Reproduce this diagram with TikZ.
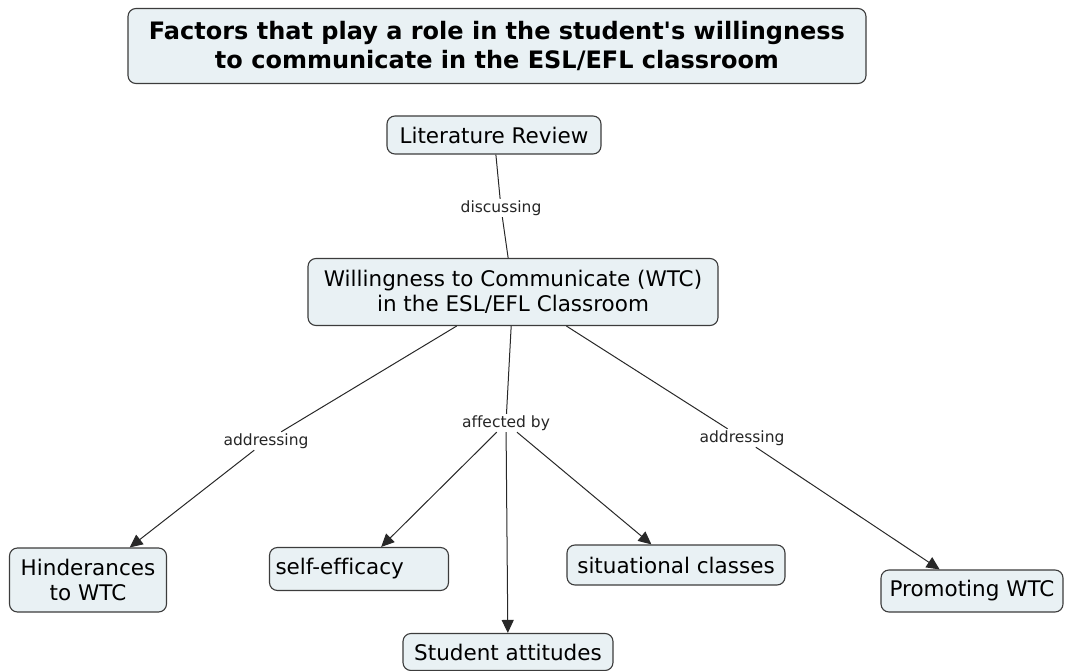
\documentclass[tikz,border=0pt]{standalone}
\usepackage{fontspec}
\setmainfont{DejaVu Sans}[Ligatures={NoCommon}]
\usetikzlibrary{arrows.meta}
\definecolor{boxfill}{RGB}{233,241,244}
\definecolor{boxline}{RGB}{60,60,60}
\definecolor{linkline}{RGB}{40,40,40}

\begin{document}
\begin{tikzpicture}[x=1pt,y=-1pt,
  concept/.style={draw=boxline,fill=boxfill,line width=1.1pt,rounded corners=8pt,
    align=center,inner xsep=6pt,inner ysep=3pt,font=\fontsize{21.5}{25}\selectfont},
  linkname/.style={fill=white,inner sep=1.5pt,text=black!85,font=\fontsize{15.5}{18}\selectfont},
  link/.style={draw=linkline,line width=1pt},
  arrowlink/.style={link,-{Triangle[length=13pt,width=12pt]}}]
  \useasboundingbox (0,0) rectangle (1068,671);
  % concepts
  \node[concept,minimum width=738,minimum height=75,font=\bfseries\fontsize{24}{29}\selectfont]
    (title) at (497,46) {Factors that play a role in the student\textquotesingle s willingness\\to communicate in the ESL/EFL classroom};
  \node[concept,minimum width=214,minimum height=38] (litrev) at (494,135) {Literature Review};
  \node[concept,minimum width=410,minimum height=67] (wtc) at (513,292) {Willingness to Communicate (WTC)\\in the ESL/EFL Classroom};
  \node[concept,minimum width=157,minimum height=64] (hind) at (88,580) {Hinderances\\to WTC};
  \node[concept,text width=167,align=left,minimum height=43] (selfeff) at (359,569) {self-efficacy};
  \node[concept,minimum width=218,minimum height=40] (situ) at (676,565) {situational classes};
  \node[concept,minimum width=182,minimum height=42] (promo) at (972,591) {Promoting WTC};
  \node[concept,minimum width=210,minimum height=37] (attit) at (508,652) {Student attitudes};
  % linking phrases
  \node[linkname] (disc) at (501,208) {discussing};
  \node[linkname] (addl) at (266,441) {addressing};
  \node[linkname] (aff) at (506,423) {affected by};
  \node[linkname] (addr) at (742,438) {addressing};
  % connections
  \draw[link] (litrev) -- (disc);
  \draw[link] (disc) -- (wtc);
  \draw[link] (wtc) -- (addl);
  \draw[arrowlink] (addl) -- (hind);
  \draw[link] (wtc) -- (aff);
  \foreach \t in {selfeff,attit,situ}
    \draw[arrowlink] (aff) -- (\t);
  \draw[link] (wtc) -- (addr);
  \draw[arrowlink] (addr) -- (promo);
\end{tikzpicture}
\end{document}
